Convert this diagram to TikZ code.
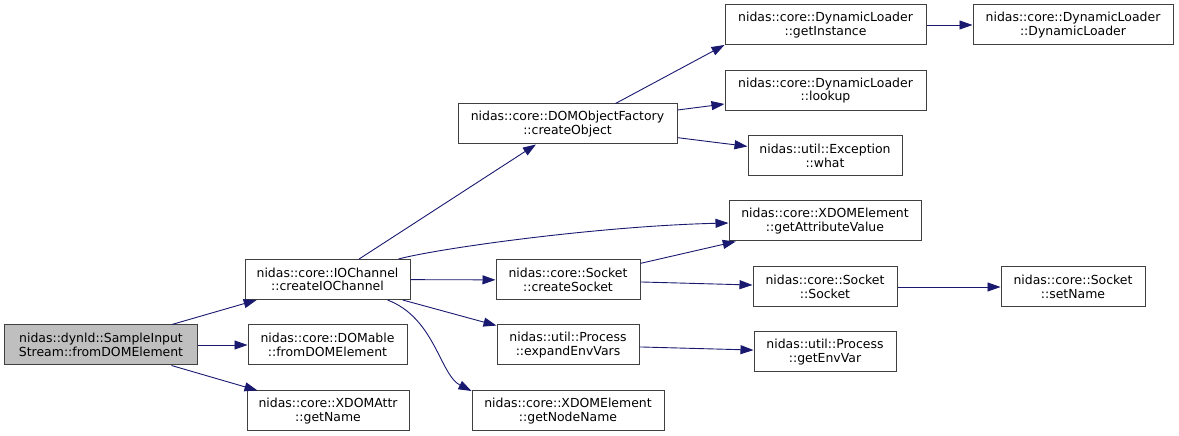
\documentclass[tikz,border=0pt]{standalone}
\usepackage{fontspec}
\setmainfont{DejaVu Sans}
\usetikzlibrary{arrows.meta}
\definecolor{edgecol}{HTML}{191970}
\definecolor{rootfill}{HTML}{BFBFBF}
\definecolor{boxline}{HTML}{404040}
\begin{document}
\begin{tikzpicture}[x=1bp,y=-1bp,
  box/.style={draw=boxline, line width=1bp, fill=white, inner sep=0pt, minimum height=40bp, align=center,
    font=\fontsize{12.5}{13.7}\selectfont, text=black},
  edge/.style={draw=edgecol, line width=0.9bp, -{Triangle[length=13bp,width=9bp]}}]
\useasboundingbox (0,0) rectangle (1179,436);
\node[box, fill=rootfill, minimum width=192bp] (root) at (101,345) {nidas::dynld::SampleInput\\Stream::fromDOMElement};
\node[box, minimum width=165bp] (ioc) at (327.5,279.5) {nidas::core::IOChannel\\::createIOChannel};
\node[box, minimum width=159bp] (domable) at (327.5,345) {nidas::core::DOMable\\::fromDOMElement};
\node[box, minimum width=162bp] (xattr) at (328,411) {nidas::core::XDOMAttr\\::getName};
\node[box, minimum width=219bp] (dof) at (567.5,124) {nidas::core::DOMObjectFactory\\::createObject};
\node[box, minimum width=201bp] (gi) at (825.5,25) {nidas::core::DynamicLoader\\::getInstance};
\node[box, minimum width=200bp] (dl) at (1073,25) {nidas::core::DynamicLoader\\::DynamicLoader};
\node[box, minimum width=201bp] (lookup) at (825.5,90.5) {nidas::core::DynamicLoader\\::lookup};
\node[box, minimum width=154bp] (what) at (825,156) {nidas::util::Exception\\::what};
\node[box, minimum width=192bp] (gav) at (825,221) {nidas::core::XDOMElement\\::getAttributeValue};
\node[box, minimum width=144bp] (sock) at (825,287) {nidas::core::Socket\\::Socket};
\node[box, minimum width=144bp] (setname) at (1073,287) {nidas::core::Socket\\::setName};
\node[box, minimum width=142bp] (gev) at (825,352) {nidas::util::Process\\::getEnvVar};
\node[box, minimum width=144bp] (cs) at (568,280) {nidas::core::Socket\\::createSocket};
\node[box, minimum width=142bp] (eev) at (568,345) {nidas::util::Process\\::expandEnvVars};
\node[box, minimum width=192bp] (gnn) at (568,411) {nidas::core::XDOMElement\\::getNodeName};

\draw[edge] (root) -- (ioc);
\draw[edge] (root) -- (domable);
\draw[edge] (root) -- (xattr);
\draw[edge] (ioc) -- (dof);
\draw[edge] (ioc.north east) ++(-12,0) coordinate (iocA) .. controls (440,248) and (600,226) .. (gav.west |- 0,223);
\draw[edge] (ioc) -- (cs);
\draw[edge] (ioc) -- (eev);
\draw[edge] (ioc.south east) ++(-23,0) coordinate (iocB) .. controls (435,318) and (440,375) .. (gnn.north west |- 481,391);
\draw[edge] (dof.north east) ++(-62,0) coordinate (dofA) -- (gi.south west |- 762,45);
\draw[edge] (dof.east |- 0,110) -- (lookup.west |- 0,104);
\draw[edge] (dof) -- (what);
\draw[edge] (cs) -- (gav);
\draw[edge] (cs) -- (sock);
\draw[edge] (eev) -- (gev);
\draw[edge] (gi) -- (dl);
\draw[edge] (sock) -- (setname);
\end{tikzpicture}
\end{document}
